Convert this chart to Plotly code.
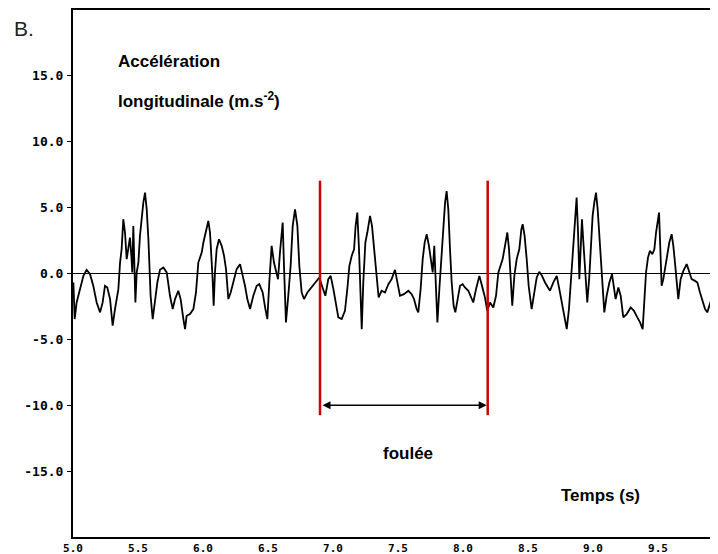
import plotly.graph_objects as go

# Time (s)
t_s = [
    5.003, 5.013, 5.028, 5.054, 5.080, 5.105, 5.131, 5.156, 5.182, 5.208,
    5.228, 5.246, 5.264, 5.285, 5.297, 5.305, 5.323, 5.349, 5.362, 5.374,
    5.387, 5.400, 5.413, 5.426, 5.438, 5.449, 5.456, 5.464, 5.472, 5.480,
    5.490, 5.503, 5.515, 5.528, 5.541, 5.554, 5.567, 5.580, 5.587, 5.597,
    5.613, 5.631, 5.649, 5.669, 5.695, 5.721, 5.746, 5.767, 5.785, 5.810,
    5.828, 5.849, 5.862, 5.874, 5.900, 5.926, 5.946, 5.964, 5.990,
    6.003, 6.023, 6.041, 6.054, 6.067, 6.074, 6.082, 6.092, 6.105, 6.123,
    6.144, 6.162, 6.177, 6.195, 6.213, 6.233, 6.259, 6.285, 6.305, 6.323,
    6.341, 6.362, 6.387, 6.413, 6.433, 6.459, 6.480, 6.495, 6.510, 6.528,
    6.546, 6.562, 6.577, 6.592, 6.613, 6.623, 6.638, 6.656, 6.674, 6.690,
    6.708, 6.726, 6.741, 6.759, 6.777, 6.803, 6.836, 6.869, 6.895, 6.915,
    6.941, 6.964, 6.982, 7.003,
    7.015, 7.041, 7.067, 7.092, 7.110, 7.126, 7.144, 7.162, 7.174, 7.187,
    7.200, 7.210, 7.221, 7.233, 7.249, 7.264, 7.285, 7.300, 7.318, 7.336,
    7.351, 7.374, 7.400, 7.426, 7.451, 7.477, 7.497, 7.515, 7.546, 7.580,
    7.605, 7.623, 7.644, 7.656, 7.674, 7.690, 7.705, 7.721, 7.738, 7.754,
    7.767, 7.779, 7.792, 7.803, 7.818, 7.836, 7.851, 7.862, 7.874, 7.887,
    7.900, 7.913, 7.928, 7.941, 7.959, 7.977, 7.997,
    8.015, 8.041, 8.062, 8.079, 8.100, 8.126, 8.146, 8.169, 8.187, 8.208,
    8.233, 8.254, 8.272, 8.290, 8.305, 8.323, 8.341, 8.354, 8.364, 8.379,
    8.395, 8.413, 8.433, 8.449, 8.459, 8.474, 8.490, 8.505, 8.528, 8.546,
    8.567, 8.587, 8.608, 8.631, 8.651, 8.669, 8.695, 8.721, 8.741, 8.759,
    8.777, 8.798, 8.815, 8.831, 8.849, 8.862, 8.874, 8.885, 8.895, 8.905,
    8.915, 8.926, 8.938, 8.956, 8.972, 8.990,
    8.997, 9.010, 9.023, 9.036, 9.049, 9.059, 9.069, 9.080, 9.087, 9.105,
    9.126, 9.146, 9.162, 9.174, 9.195, 9.213, 9.233, 9.259, 9.290, 9.315,
    9.341, 9.362, 9.382, 9.395, 9.408, 9.423, 9.438, 9.456, 9.472, 9.485,
    9.497, 9.508, 9.518, 9.528, 9.541, 9.556, 9.572, 9.587, 9.605, 9.618,
    9.633, 9.644, 9.656, 9.674, 9.695, 9.721, 9.741, 9.759, 9.785, 9.803,
    9.823, 9.844, 9.862, 9.879, 9.900, 9.915, 9.931, 9.946,
]

# Longitudinal acceleration (m.s-2)
acc = [
    -0.68, -3.46, -2.20, -1.19, -0.18, 0.28, -0.05, -0.93, -2.20, -2.95,
    -2.20, -0.93, -1.06, -1.94, -3.46, -3.96, -2.70, -1.19, 0.83, 1.84,
    4.12, 3.11, 1.09, 1.84, 2.73, 1.34, 0.08, 3.61, -0.18, -2.20,
    0.08, 0.83, 2.85, 4.37, 5.38, 6.14, 4.87, 2.60, 0.08, -1.69,
    -3.46, -1.94, -0.68, 0.28, 0.45, 0.08, -1.69, -2.70, -1.94, -1.31,
    -1.94, -3.46, -4.22, -3.21, -3.08, -2.70, -1.44, 0.83, 1.59,
    2.35, 3.36, 3.99, 3.11, 1.09, -0.43, -2.45, 0.08, 1.84, 2.60,
    2.10, 1.34, 0.33, -1.94, -1.44, -0.68, 0.33, 0.71, -0.05, -0.93,
    -1.94, -2.70, -1.69, -0.93, -0.81, -1.44, -2.70, -3.46, -0.68, 2.10,
    0.83, 0.08, -0.43, 1.59, 3.86, 0.58, -3.71, -1.69, 0.58, 3.61,
    4.87, 3.61, 0.58, -1.44, -1.94, -1.44, -1.06, -0.68, -0.30, -0.93,
    -1.69, -0.43, -0.18, -1.19,
    -1.94, -3.33, -3.46, -2.83, -1.19, 0.58, 1.34, 1.84, 3.61, 4.62,
    1.84, -1.44, -4.22, -0.68, 2.35, 3.11, 4.37, 3.61, 1.59, -0.68,
    -1.82, -1.31, -1.44, -0.81, -0.43, 0.28, -0.68, -1.69, -1.57, -1.31,
    -1.57, -1.94, -2.70, -2.95, -1.19, 1.09, 2.35, 2.98, 2.10, 0.83,
    0.08, 2.10, -0.68, -3.71, -1.19, 1.84, 3.86, 5.38, 6.26, 4.87,
    1.84, -0.68, -2.45, -2.95, -1.94, -0.93, -0.81,
    -1.06, -1.31, -1.82, -2.20, -1.19, -0.18, -0.93, -1.82, -2.83, -2.20,
    -2.58, -1.69, 0.08, 0.58, 1.09, 2.10, 3.11, 1.84, -0.18, -2.45,
    -0.18, 1.09, 1.84, 3.36, 3.74, 2.85, 1.09, -0.93, -2.70, -1.44,
    -0.30, 0.13, -0.18, -0.68, -1.06, -1.31, -0.68, -0.18, -1.19, -2.20,
    -2.95, -4.22, -2.70, -0.43, 2.35, 4.37, 5.76, 3.11, -0.43, 1.84,
    4.12, 2.35, 0.58, -2.20, -0.18, 3.36,
    4.37, 5.38, 6.14, 4.87, 2.85, 0.83, -0.68, -2.20, -2.95, -1.69,
    -0.68, -0.05, -1.19, -1.94, -1.06, -1.69, -3.33, -3.08, -2.58, -2.83,
    -3.33, -3.71, -4.22, -1.94, 0.08, 1.21, 1.72, 1.46, 1.84, 3.11,
    3.86, 4.62, 1.84, -0.93, -0.43, 0.58, 1.59, 2.35, 2.98, 2.10,
    0.58, -0.68, -1.94, -0.43, 0.20, 0.71, 0.08, -0.43, -0.56, -0.68,
    -1.44, -2.07, -2.70, -2.95, -2.20, -1.82, -2.20, -2.83,
]

# Stride markers (s) and arrow level
stride_t = [6.9, 8.19]
stride_top = 7.05
stride_bottom = -10.75
arrow_y = -10.0

x_ticks = [5.0, 5.5, 6.0, 6.5, 7.0, 7.5, 8.0, 8.5, 9.0, 9.5]
y_ticks = [-15.0, -10.0, -5.0, 0.0, 5.0, 10.0, 15.0]

fig = go.Figure()
fig.add_trace(go.Scatter(x=t_s, y=acc, mode="lines",
                         line=dict(color="black", width=1.8),
                         showlegend=False, hoverinfo="skip"))

for st in stride_t:
    fig.add_shape(type="line", x0=st, x1=st, y0=stride_bottom, y1=stride_top,
                  xref="x", yref="y", line=dict(color="#cc0000", width=2.5))

fig.add_annotation(x=stride_t[1], y=arrow_y, ax=stride_t[0], ay=arrow_y,
                   xref="x", yref="y", axref="x", ayref="y", text="",
                   showarrow=True, arrowhead=2, startarrowhead=2,
                   arrowside="end+start", arrowsize=1, arrowwidth=1.6,
                   arrowcolor="black", standoff=1, startstandoff=1)

tfont = dict(family="Liberation Sans, Arial", size=17, color="black")

# page-pixel helpers (plot area: left 73, bottom 537, 645 x 527 px)
def px_x(p):
    return (p - 73) / 645.0

def px_y(p):
    return (537 - p) / 527.0

fig.add_annotation(text="B.", xref="paper", yref="paper", x=px_x(12), y=px_y(28),
                   xanchor="left", yanchor="middle", showarrow=False,
                   font=dict(family="Liberation Sans, Arial", size=21, color="#222"))
fig.add_annotation(text="<b>Accélération</b>", xref="paper", yref="paper",
                   x=px_x(116), y=px_y(61), xanchor="left", yanchor="middle",
                   showarrow=False, font=tfont)
fig.add_annotation(text="<b>longitudinale (m.s<sup>-2</sup>)</b>", xref="paper", yref="paper",
                   x=px_x(116), y=px_y(100), xanchor="left", yanchor="middle",
                   showarrow=False, font=tfont)
fig.add_annotation(text="<b>foulée</b>", xref="paper", yref="paper",
                   x=px_x(381), y=px_y(453), xanchor="left", yanchor="middle",
                   showarrow=False, font=tfont)
fig.add_annotation(text="<b>Temps (s)</b>", xref="paper", yref="paper",
                   x=px_x(559), y=px_y(495), xanchor="left", yanchor="middle",
                   showarrow=False, font=tfont)

ytickfont = dict(family="DejaVu Sans Mono", size=13, color="black", weight="bold")
xtickfont = dict(family="DejaVu Sans Mono", size=11, color="black", weight="bold")

fig.update_xaxes(range=[5.0, 5.0 + 645 / 130.0], tickvals=x_ticks,
                 ticktext=[f"{v:.1f}" for v in x_ticks],
                 showgrid=False, zeroline=False, showline=True, linecolor="black",
                 linewidth=2, mirror=True, ticks="", ticklabelstandoff=0,
                 tickfont=xtickfont, automargin=False)
fig.update_yaxes(range=[-20, 20], tickvals=y_ticks,
                 ticktext=[f"{v:.1f}" for v in y_ticks],
                 showgrid=False, zeroline=True, zerolinecolor="black", zerolinewidth=1.2,
                 showline=True, linecolor="black", linewidth=2, mirror=False,
                 ticks="outside", ticklen=4, tickcolor="black", tickfont=ytickfont,
                 ticklabelstandoff=1, automargin=False)

# page body has an 8 px margin: figure is offset by 8 px in both directions
fig.update_layout(width=710, height=546, margin=dict(l=65, r=0, t=2, b=17, pad=0),
                  plot_bgcolor="white", paper_bgcolor="white")

fig.write_html("out.html")
